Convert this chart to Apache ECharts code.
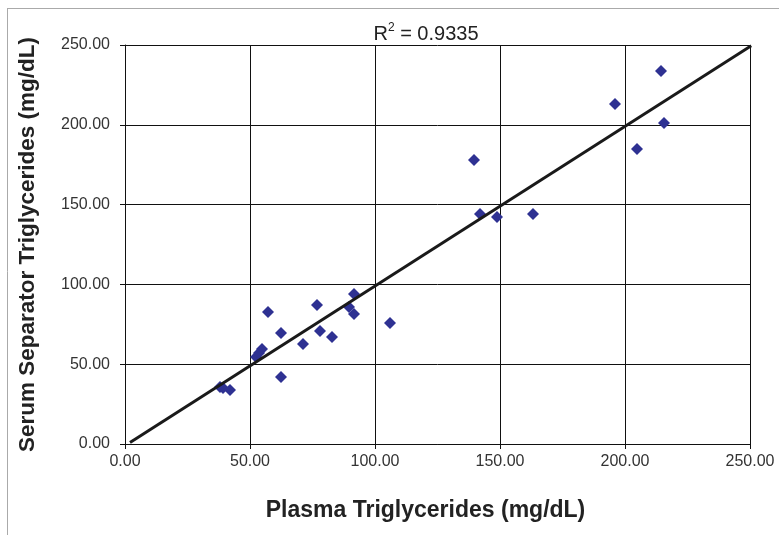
<!DOCTYPE html>
<html>
<head>
<meta charset="utf-8">
<script src="https://cdn.jsdelivr.net/npm/echarts@6/dist/echarts.min.js"></script>
<style>html,body{margin:0;padding:0;background:#fff;}#c{width:779px;height:535px;}</style>
</head>
<body>
<div id="c"></div>
<script>
const plasmaX = [38.0, 39.2, 42.0, 52.4, 54.8, 53.6, 57.2, 62.4, 62.4, 71.2, 76.8, 78.0, 82.8, 89.6, 91.6, 91.6, 106.0, 139.6, 142.0, 148.8, 163.2, 204.8, 214.4, 196.0, 215.6];
const serumY  = [35.7, 35.1, 33.8, 54.5, 59.5, 57.0, 82.7, 69.5, 42.0, 62.7, 87.1, 70.8, 67.0, 85.8, 94.0, 81.5, 75.8, 178.0, 144.1, 142.2, 144.1, 184.8, 233.7, 213.0, 201.1];
const trendX = [2, 250.5];
const trendY = [1.0, 249.5];
const xTicks = [0, 50, 100, 150, 200, 250];
const yTicks = [0, 50, 100, 150, 200, 250];
const xTitle = 'Plasma Triglycerides (mg/dL)';
const yTitle = 'Serum Separator Triglycerides (mg/dL)';

const chart = echarts.init(document.getElementById('c'), null, {renderer: 'canvas'});
const font = 'Liberation Sans, Arial, sans-serif';
chart.setOption({
  animation: false,
  backgroundColor: '#fff',
  title: {
    text: '{a|R}{s|2}{a| = 0.9335}',
    left: 421, top: 17, textAlign: 'center',
    textStyle: {
      fontWeight: 'normal',
      rich: {
        a: {fontFamily: font, fontSize: 20, fontWeight: 'normal', color: '#222', verticalAlign: 'bottom', lineHeight: 22},
        s: {fontFamily: font, fontSize: 12, fontWeight: 'normal', color: '#222', verticalAlign: 'top', lineHeight: 22, padding: [0, 0, 10, 0]}
      }
    }
  },
  graphic: [
    {type: 'line', shape: {x1: 7, y1: 8.5, x2: 779, y2: 8.5}, style: {stroke: '#aaa', lineWidth: 1}},
    {type: 'line', shape: {x1: 7.5, y1: 8, x2: 7.5, y2: 535}, style: {stroke: '#aaa', lineWidth: 1}}
  ],
  grid: {left: 125, right: 29, top: 45, bottom: 91},
  xAxis: {
    type: 'value', min: 0, max: 250, interval: 50,
    name: xTitle, nameLocation: 'middle', nameGap: 55,
    nameTextStyle: {fontFamily: font, fontSize: 23, fontWeight: 'bold', color: '#222', padding: [0, 24, 0, 0]},
    axisLine: {show: true, lineStyle: {color: '#111', width: 1}},
    axisTick: {show: true, inside: false, length: 5, lineStyle: {color: '#111'}},
    axisLabel: {fontFamily: font, fontSize: 16, color: '#333', margin: 10, formatter: v => v.toFixed(2)},
    splitLine: {show: true, lineStyle: {color: '#111', width: 1}}
  },
  yAxis: {
    type: 'value', min: 0, max: 250, interval: 50,
    name: yTitle, nameLocation: 'middle', nameGap: 86, nameRotate: 90,
    nameTextStyle: {fontFamily: font, fontSize: 22.5, fontWeight: 'bold', color: '#222'},
    axisLine: {show: true, lineStyle: {color: '#111', width: 1}},
    axisTick: {show: true, inside: false, length: 5, lineStyle: {color: '#111'}},
    axisLabel: {fontFamily: font, fontSize: 16, color: '#333', margin: 15, formatter: v => v.toFixed(2)},
    splitLine: {show: true, lineStyle: {color: '#111', width: 1}}
  },
  series: [
    {
      type: 'line', data: trendX.map((x, i) => [x, trendY[i]]),
      symbol: 'none', lineStyle: {color: '#1a1a1a', width: 3}, z: 3
    },
    {
      type: 'scatter', data: plasmaX.map((x, i) => [x, serumY[i]]),
      symbol: 'diamond', symbolSize: 12,
      itemStyle: {color: '#2E3192', opacity: 1}, z: 2
    }
  ]
});
</script>
</body>
</html>
